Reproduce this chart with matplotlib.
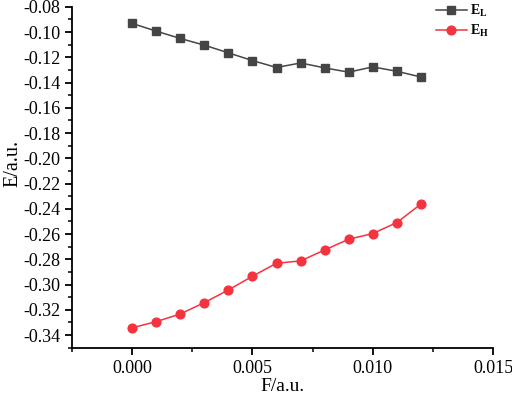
import matplotlib
matplotlib.use("Agg")
import matplotlib.pyplot as plt
from matplotlib.ticker import MultipleLocator, FormatStrFormatter

F = [0.000, 0.001, 0.002, 0.003, 0.004, 0.005, 0.006, 0.007, 0.008, 0.009, 0.010, 0.011, 0.012]
E_L = [-0.0932, -0.0993, -0.1051, -0.1104, -0.1165, -0.1226, -0.1281, -0.1245, -0.1284, -0.1318, -0.1276, -0.1311, -0.1356]
E_H = [-0.3342, -0.3294, -0.3233, -0.3143, -0.3043, -0.2934, -0.2831, -0.2813, -0.2726, -0.2641, -0.2596, -0.2509, -0.2363]

plt.rcParams['font.family'] = ['Liberation Serif', 'DejaVu Serif']
plt.rcParams['mathtext.fontset'] = 'custom'
plt.rcParams['mathtext.rm'] = 'Liberation Serif'
plt.rcParams['mathtext.bf'] = 'Liberation Serif:bold'

fig = plt.figure(figsize=(5.12, 3.98), dpi=100)
ax = fig.add_axes([0.1406, 0.1264, 0.963 - 0.1406, 0.983 - 0.1264])

ax.plot(F, E_L, color='#454545', marker='s', markersize=5.5, linewidth=1.1, label=r'$\mathbf{E_L}$')
ax.plot(F, E_H, color='#f4333f', marker='o', markersize=6.3, linewidth=1.1, label=r'$\mathbf{E_H}$')

ax.set_xlim(-0.0025, 0.015)
ax.set_ylim(-0.35, -0.08)
ax.xaxis.set_major_locator(MultipleLocator(0.005))
ax.xaxis.set_minor_locator(MultipleLocator(0.0025))
ax.yaxis.set_major_locator(MultipleLocator(0.02))
ax.yaxis.set_minor_locator(MultipleLocator(0.01))
ax.xaxis.set_major_formatter(FormatStrFormatter('%.3f'))
ax.yaxis.set_major_formatter(FormatStrFormatter('%.2f'))

for s in ['top', 'right']:
    ax.spines[s].set_visible(False)
for s in ['left', 'bottom']:
    ax.spines[s].set_linewidth(1.3)
ax.tick_params(which='major', direction='out', length=5, width=1.3, labelsize=13)
ax.tick_params(which='minor', direction='out', length=3, width=1.1)
ax.tick_params(axis='x', which='major', pad=4)

ax.set_xlabel('F/a.u.', fontsize=14, labelpad=0.5)
ax.set_ylabel('E/a.u.', fontsize=14.5)
ax.yaxis.set_label_coords(-0.118, 0.54)

leg = ax.legend(loc='upper left', frameon=False, fontsize=10, handlelength=2.2,
                bbox_to_anchor=(0.8646, 1.01), borderaxespad=0.0, borderpad=0.0,
                handletextpad=0.25, labelspacing=0.25)

fig.savefig('out.png', dpi=100)
